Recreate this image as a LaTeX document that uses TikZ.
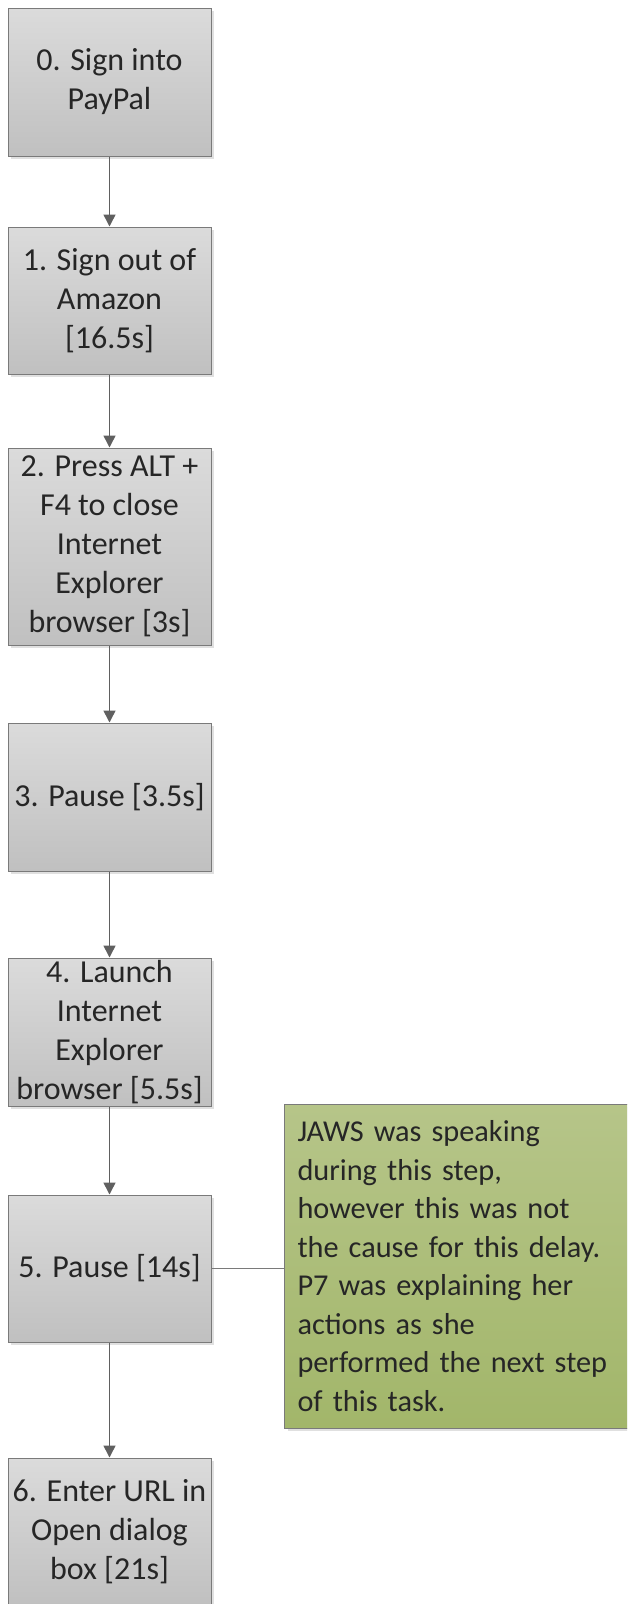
\documentclass[tikz,border=0pt]{standalone}
\usepackage{fontspec}
\setmainfont{Carlito}
\usetikzlibrary{arrows.meta,shadows}
\definecolor{boxtop}{HTML}{DBDBDB}
\definecolor{boxbot}{HTML}{C0C0C0}
\definecolor{boxline}{HTML}{7A7A7A}
\definecolor{arrowc}{HTML}{606060}
\definecolor{greentop}{HTML}{B6C589}
\definecolor{greenbot}{HTML}{A2B66A}
\definecolor{txt}{HTML}{262626}
\tikzset{
  stepbox/.style={draw=boxline, line width=1pt, top color=boxtop, bottom color=boxbot,
    minimum width=203pt, align=center, inner sep=1pt, text=txt,
    font=\fontsize{32}{38.9}\selectfont,
    general shadow={fill=black!12, shadow xshift=3pt, shadow yshift=-3pt}},
  notebox/.style={draw=boxline, line width=1pt, top color=greentop, bottom color=greenbot,
    minimum width=345pt, minimum height=324pt, align=left, text width=320pt,
    inner xsep=13pt, text=txt, font=\fontsize{30.3}{38.5}\selectfont,
    general shadow={fill=black!12, shadow xshift=3pt, shadow yshift=-3pt}},
  flow/.style={draw=arrowc, line width=1.5pt, -{Triangle[length=12pt,width=12pt]}},
  link/.style={draw=boxline, line width=1pt}
}
\begin{document}
\begin{tikzpicture}[x=1pt,y=-1pt]
\useasboundingbox (0,0) rectangle (627,1604);
\clip (0,0) rectangle (627,1604);
\fill[white] (0,0) rectangle (627,1604);
\node[stepbox, minimum height=148pt] (b0) at (109.5,82) {0. Sign into\\PayPal};
\node[stepbox, minimum height=147pt] (b1) at (109.5,300.5) {1. Sign out of\\Amazon\\{[}16.5s{]}};
\node[stepbox, minimum height=197pt] (b2) at (109.5,546.5) {2. Press ALT +\\F4 to close\\Internet\\Explorer\\browser [3s]};
\node[stepbox, minimum height=148pt] (b3) at (109.5,797) {3. Pause [3.5s]};
\node[stepbox, minimum height=148pt] (b4) at (109.5,1032) {4. Launch\\Internet\\Explorer\\browser [5.5s]};
\node[stepbox, minimum height=147pt] (b5) at (109.5,1268.5) {5. Pause [14s]};
\node[stepbox, minimum height=147pt] (b6) at (109.5,1531.5) {6. Enter URL in\\Open dialog\\box [21s]};
\node[notebox] (note) at (457.5,1266) {JAWS was speaking\\during this step,\\however this was not\\the cause for this delay.\\P7 was explaining her\\actions as she\\performed the next step\\of this task.};
\draw[flow] (b0) -- (b1);
\draw[flow] (b1) -- (b2);
\draw[flow] (b2) -- (b3);
\draw[flow] (b3) -- (b4);
\draw[flow] (b4) -- (b5);
\draw[flow] (b5) -- (b6);
\draw[link] (b5.east) -- (b5.east -| note.west);
\end{tikzpicture}
\end{document}
